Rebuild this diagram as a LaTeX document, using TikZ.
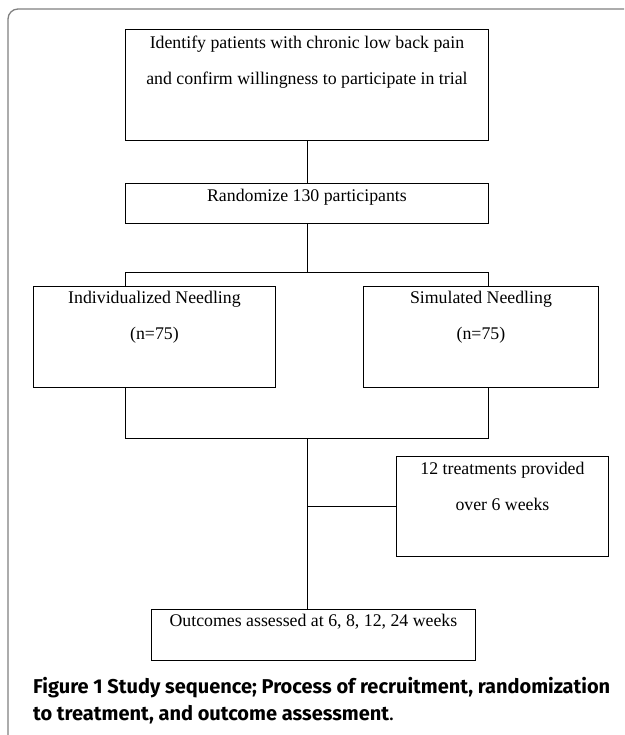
\documentclass[tikz,border=0pt]{standalone}
\usepackage{fontspec}
\setmainfont{Liberation Serif}
\newfontfamily\capfont{Fira Sans}
\begin{document}
\begin{tikzpicture}[x=1pt,y=-1pt,
  box/.style={draw=black, line width=0.9pt, rectangle, inner sep=0pt, anchor=north west},
  btext/.style={align=center, anchor=north, inner sep=0pt, font=\fontsize{17.8}{36}\selectfont},
  link/.style={draw=black, line width=0.9pt},
  frame/.style={draw=black!50, line width=1.3pt, rounded corners=10pt},
  captext/.style={anchor=west, inner sep=0pt, font=\capfont\fontsize{20}{24}\selectfont}]
\useasboundingbox (0,0) rectangle (624,735);
\draw[frame] (8,735) -- (8,9) -- (624,9);
% boxes
\node[box, minimum width=363pt, minimum height=111pt] (b1) at (125,29) {};
\node[btext] (t1) at ([yshift=-7pt]b1.north) {Identify patients with chronic low back pain\\and confirm willingness to participate in trial};
\node[box, minimum width=363pt, minimum height=40pt] (b2) at (125,183) {};
\node[btext] (t2) at ([yshift=-6pt]b2.north) {Randomize 130 participants};
\node[box, minimum width=242pt, minimum height=101pt] (b3) at (33,286) {};
\node[btext] (t3) at ([yshift=-5pt]b3.north) {Individualized Needling\\(n=75)};
\node[box, minimum width=235pt, minimum height=101pt] (b4) at (363,286) {};
\node[btext] (t4) at ([yshift=-5pt]b4.north) {Simulated Needling\\(n=75)};
\node[box, minimum width=212pt, minimum height=100pt] (b5) at (396,456) {};
\node[btext] (t5) at ([yshift=-6pt]b5.north) {12 treatments provided\\over 6 weeks};
\node[box, minimum width=324pt, minimum height=51pt] (b6) at (151,609) {};
\node[btext] (t6) at ([yshift=-5pt]b6.north) {Outcomes assessed at 6, 8, 12, 24 weeks};
% connectors
\coordinate (hL) at (125,272);
\coordinate (hR) at (488,272);
\coordinate (mid) at (b2.south |- hL);
\coordinate (lL) at (125,438);
\coordinate (lR) at (488,438);
\coordinate (lmid) at (b2.south |- lL);
\coordinate (side) at (b2.south |- b5.west);
\draw[link] (b1.south) -- (b2.north);
\draw[link] (b2.south) -- (mid);
\draw[link] (hL |- b3.north) -- (hL) -- (hR) -- (hR |- b4.north);
\draw[link] (hL |- b3.south) -- (lL) -- (lR) -- (hR |- b4.south);
\draw[link] (lmid) -- (lmid |- b6.north);
\draw[link] (side) -- (b5.west);
% caption
\node[captext] (cap1) at (33,688) {\textbf{Figure 1 Study sequence; Process of recruitment, randomization}};
\node[captext] (cap2) at (33,715) {\textbf{to treatment, and outcome assessment}.};
\end{tikzpicture}
\end{document}
